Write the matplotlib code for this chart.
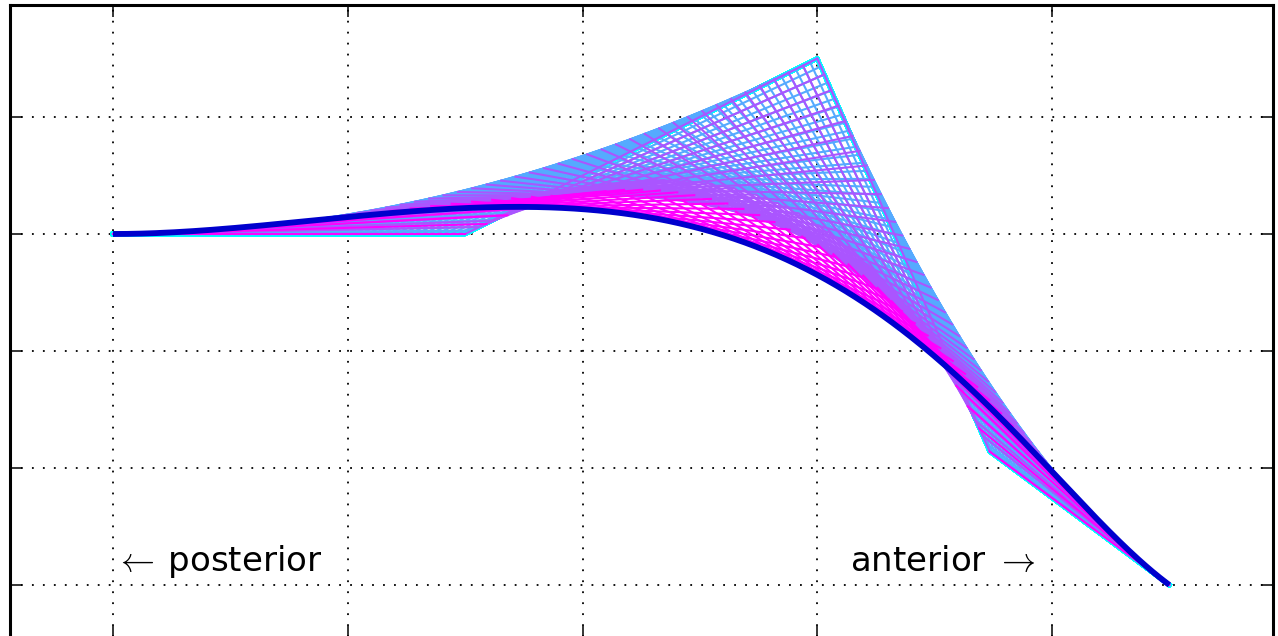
import numpy as np
import matplotlib
matplotlib.use("Agg")
import matplotlib.pyplot as plt

# Pontos de controle (Bezier de grau 4)
ctrl_x = [0.0, 3.0, 6.0, 7.47, 9.0]
ctrl_y = [3.0, 3.0, 4.5, 1.14, 0.0]
n_steps = 50

x_ticks = [0, 2, 4, 6, 8]
y_ticks = [0, 1, 2, 3, 4]

plt.rcParams['lines.scale_dashes'] = False
plt.rcParams['mathtext.fontset'] = 'cm'


def casteljau_levels(px, py, t):
    # devolve todos os niveis intermediarios do algoritmo de de Casteljau
    levels = [(np.array(px), np.array(py))]
    while len(levels[-1][0]) > 1:
        lx, ly = levels[-1]
        levels.append(((1 - t) * lx[:-1] + t * lx[1:], (1 - t) * ly[:-1] + t * ly[1:]))
    return levels


fig = plt.figure(figsize=(12.78, 6.36), dpi=100)
ax = fig.add_axes([10 / 1278, -2 / 636, 1263 / 1278, 633 / 636])

n_lev = len(ctrl_x) - 1
cmap = plt.get_cmap('cool')
all_levels = [casteljau_levels(ctrl_x, ctrl_y, t) for t in np.linspace(0, 1, n_steps)]
# desenha nivel a nivel (poligono de controle um pouco mais grosso)
for k in range(n_lev):
    lw = 3.0 if k == 0 else 1.5
    for levels in all_levels:
        lx, ly = levels[k]
        ax.plot(lx, ly, color=cmap(k / (n_lev - 1)), lw=lw, zorder=2)

# Curva final
ts = np.linspace(0, 1, 300)
cx = [casteljau_levels(ctrl_x, ctrl_y, t)[-1][0][0] for t in ts]
cy = [casteljau_levels(ctrl_x, ctrl_y, t)[-1][1][0] for t in ts]
ax.plot(cx, cy, color='mediumblue', lw=4.2, zorder=3, solid_capstyle='butt')

ax.set_xlim(-(113 - 10) / 117.375, (1273 - 113) / 117.375)
ax.set_ylim(-(638 - 585) / 117.0, (585 - 5) / 117.0)
ax.set_xticks(x_ticks)
ax.set_yticks(y_ticks)
ax.set_xticklabels([])
ax.set_yticklabels([])
ax.tick_params(direction='in', length=8.6, width=1.1, top=True, right=True, color='black')
for s in ax.spines.values():
    s.set_linewidth(2.2)
ax.grid(True, color='black', linestyle=(0, (1.3, 6.6)), linewidth=1.3, zorder=1)
ax.set_axisbelow(True)

ax.text(0.02, 0.12, '$\\leftarrow$\u2009posterior', fontsize=24.5, ha='left', va='baseline')
ax.text(7.86, 0.12, r'anterior $\rightarrow$', fontsize=24.5, ha='right', va='baseline')

fig.savefig('out.png', dpi=100)
